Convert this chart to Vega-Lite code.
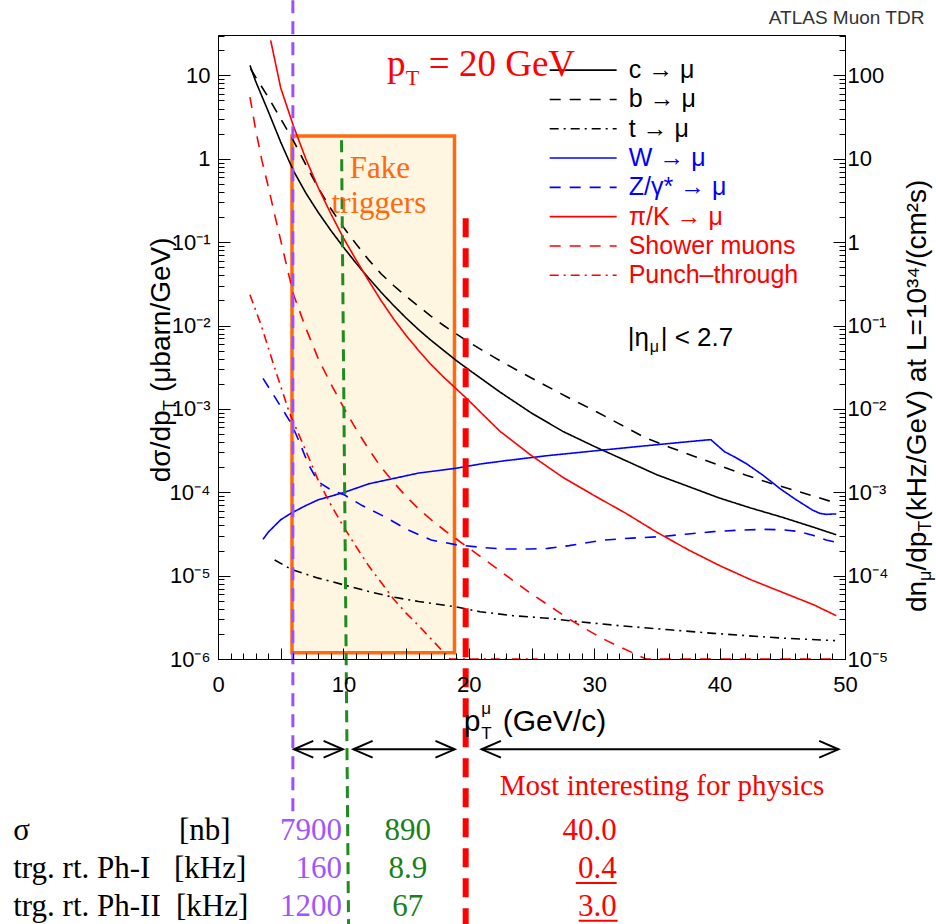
{
 "$schema": "https://vega.github.io/schema/vega-lite/v6.json",
 "width": 627,
 "height": 624,
 "autosize": {"type": "none"},
 "padding": {"left": 218, "top": 35, "right": 91, "bottom": 265},
 "background": "white",
 "config": {"view": {"stroke": "black", "strokeWidth": 1}, "text": {"font": "Liberation Sans"}},
 "datasets": {
  "curves": [
   {"s":"c → μ","x":2.55,"y":13.18},{"s":"c → μ","x":3,"y":8.51},{"s":"c → μ","x":4,"y":3.72},{"s":"c → μ","x":5,"y":1.585},{"s":"c → μ","x":6,"y":0.724},{"s":"c → μ","x":7,"y":0.389},{"s":"c → μ","x":8,"y":0.2265},{"s":"c → μ","x":9,"y":0.138},{"s":"c → μ","x":10,"y":0.0871},{"s":"c → μ","x":11,"y":0.0562},{"s":"c → μ","x":12,"y":0.0372},{"s":"c → μ","x":13,"y":0.0251},{"s":"c → μ","x":14,"y":0.0174},{"s":"c → μ","x":15,"y":0.0123},{"s":"c → μ","x":16,"y":0.00891},{"s":"c → μ","x":17,"y":0.00661},{"s":"c → μ","x":18,"y":0.00501},{"s":"c → μ","x":19,"y":0.0038},{"s":"c → μ","x":20,"y":0.00295},{"s":"c → μ","x":22.5,"y":0.001585},{"s":"c → μ","x":25,"y":0.000891},{"s":"c → μ","x":27.5,"y":0.000537},{"s":"c → μ","x":30,"y":0.000355},{"s":"c → μ","x":32.5,"y":0.00024},{"s":"c → μ","x":35,"y":0.000162},{"s":"c → μ","x":37.5,"y":0.0001175},{"s":"c → μ","x":40,"y":0.0000851},{"s":"c → μ","x":42.5,"y":0.0000646},{"s":"c → μ","x":45,"y":0.0000501},{"s":"c → μ","x":47.5,"y":0.000038},{"s":"c → μ","x":49.3,"y":0.0000309},
   {"s":"b → μ","x":2.6,"y":12.02},{"s":"b → μ","x":3,"y":9.55},{"s":"b → μ","x":4,"y":5.5},{"s":"b → μ","x":5,"y":3.02},{"s":"b → μ","x":6,"y":1.66},{"s":"b → μ","x":7,"y":0.851},{"s":"b → μ","x":8,"y":0.447},{"s":"b → μ","x":9,"y":0.251},{"s":"b → μ","x":10,"y":0.1514},{"s":"b → μ","x":11,"y":0.0955},{"s":"b → μ","x":12,"y":0.0617},{"s":"b → μ","x":13,"y":0.0417},{"s":"b → μ","x":14,"y":0.0302},{"s":"b → μ","x":15,"y":0.0224},{"s":"b → μ","x":16,"y":0.017},{"s":"b → μ","x":17,"y":0.01288},{"s":"b → μ","x":18,"y":0.01},{"s":"b → μ","x":19,"y":0.00794},{"s":"b → μ","x":20,"y":0.00631},{"s":"b → μ","x":22,"y":0.00417},{"s":"b → μ","x":24,"y":0.00282},{"s":"b → μ","x":26,"y":0.00195},{"s":"b → μ","x":28,"y":0.00135},{"s":"b → μ","x":30,"y":0.000955},{"s":"b → μ","x":32,"y":0.000661},{"s":"b → μ","x":34,"y":0.000457},{"s":"b → μ","x":36,"y":0.000347},{"s":"b → μ","x":38,"y":0.000269},{"s":"b → μ","x":40,"y":0.000209},{"s":"b → μ","x":42,"y":0.000162},{"s":"b → μ","x":44,"y":0.000129},{"s":"b → μ","x":46,"y":0.000105},{"s":"b → μ","x":48,"y":0.0000851},{"s":"b → μ","x":49.3,"y":0.0000741},
   {"s":"t → μ","x":4.52,"y":0.0000154},{"s":"t → μ","x":5.84,"y":0.0000119},{"s":"t → μ","x":8,"y":0.00000933},{"s":"t → μ","x":10.1,"y":0.00000771},{"s":"t → μ","x":12,"y":0.00000646},{"s":"t → μ","x":13.8,"y":0.00000558},{"s":"t → μ","x":16,"y":0.0000049},{"s":"t → μ","x":18.9,"y":0.00000424},{"s":"t → μ","x":20.9,"y":0.00000369},{"s":"t → μ","x":23.5,"y":0.00000331},{"s":"t → μ","x":26.3,"y":0.00000308},{"s":"t → μ","x":28.8,"y":0.0000028},{"s":"t → μ","x":32,"y":0.00000251},{"s":"t → μ","x":36,"y":0.00000224},{"s":"t → μ","x":39.5,"y":0.00000203},{"s":"t → μ","x":42,"y":0.00000191},{"s":"t → μ","x":45,"y":0.00000178},{"s":"t → μ","x":49.2,"y":0.00000166},
   {"s":"W → μ","x":3.59,"y":0.0000272},{"s":"W → μ","x":4,"y":0.0000331},{"s":"W → μ","x":5,"y":0.0000468},{"s":"W → μ","x":5.84,"y":0.0000562},{"s":"W → μ","x":7,"y":0.0000692},{"s":"W → μ","x":8,"y":0.0000813},{"s":"W → μ","x":10.1,"y":0.0001},{"s":"W → μ","x":12,"y":0.000126},{"s":"W → μ","x":14.6,"y":0.000153},{"s":"W → μ","x":16,"y":0.00017},{"s":"W → μ","x":18.9,"y":0.000193},{"s":"W → μ","x":20.9,"y":0.000218},{"s":"W → μ","x":23,"y":0.00024},{"s":"W → μ","x":26.3,"y":0.000275},{"s":"W → μ","x":30.7,"y":0.000321},{"s":"W → μ","x":35,"y":0.000372},{"s":"W → μ","x":38.9,"y":0.000423},{"s":"W → μ","x":39.3,"y":0.000427},{"s":"W → μ","x":40.4,"y":0.000306},{"s":"W → μ","x":41,"y":0.000275},{"s":"W → μ","x":42.1,"y":0.000222},{"s":"W → μ","x":43.5,"y":0.0001585},{"s":"W → μ","x":44.8,"y":0.000111},{"s":"W → μ","x":46,"y":0.0000832},{"s":"W → μ","x":47.4,"y":0.0000612},{"s":"W → μ","x":48,"y":0.0000558},{"s":"W → μ","x":48.5,"y":0.0000543},{"s":"W → μ","x":49.3,"y":0.000055},
   {"s":"Z/γ* → μ","x":3.59,"y":0.00232},{"s":"Z/γ* → μ","x":4.5,"y":0.00141},{"s":"Z/γ* → μ","x":5.84,"y":0.00067},{"s":"Z/γ* → μ","x":6.5,"y":0.000398},{"s":"Z/γ* → μ","x":7.17,"y":0.000222},{"s":"Z/γ* → μ","x":7.97,"y":0.000134},{"s":"Z/γ* → μ","x":9,"y":0.000107},{"s":"Z/γ* → μ","x":10.1,"y":0.0000925},{"s":"Z/γ* → μ","x":11.5,"y":0.0000692},{"s":"Z/γ* → μ","x":13.3,"y":0.0000508},{"s":"Z/γ* → μ","x":15,"y":0.0000363},{"s":"Z/γ* → μ","x":17,"y":0.0000267},{"s":"Z/γ* → μ","x":19.1,"y":0.0000233},{"s":"Z/γ* → μ","x":20.9,"y":0.0000219},{"s":"Z/γ* → μ","x":22.6,"y":0.0000209},{"s":"Z/γ* → μ","x":24.9,"y":0.0000209},{"s":"Z/γ* → μ","x":26.3,"y":0.0000212},{"s":"Z/γ* → μ","x":28,"y":0.0000229},{"s":"Z/γ* → μ","x":30.7,"y":0.0000267},{"s":"Z/γ* → μ","x":33,"y":0.0000282},{"s":"Z/γ* → μ","x":35.2,"y":0.0000293},{"s":"Z/γ* → μ","x":37.5,"y":0.0000316},{"s":"Z/γ* → μ","x":39.5,"y":0.0000337},{"s":"Z/γ* → μ","x":41.5,"y":0.0000351},{"s":"Z/γ* → μ","x":43.5,"y":0.0000359},{"s":"Z/γ* → μ","x":45,"y":0.0000355},{"s":"Z/γ* → μ","x":46.4,"y":0.0000337},{"s":"Z/γ* → μ","x":47.5,"y":0.0000302},{"s":"Z/γ* → μ","x":48.5,"y":0.0000267},{"s":"Z/γ* → μ","x":49.3,"y":0.0000251},
   {"s":"π/K → μ","x":4.2,"y":26.3},{"s":"π/K → μ","x":5,"y":7.08},{"s":"π/K → μ","x":6,"y":2.51},{"s":"π/K → μ","x":7,"y":1.0},{"s":"π/K → μ","x":8,"y":0.447},{"s":"π/K → μ","x":9,"y":0.219},{"s":"π/K → μ","x":10,"y":0.1122},{"s":"π/K → μ","x":11,"y":0.0617},{"s":"π/K → μ","x":12,"y":0.0347},{"s":"π/K → μ","x":13,"y":0.01995},{"s":"π/K → μ","x":14,"y":0.012},{"s":"π/K → μ","x":15,"y":0.00759},{"s":"π/K → μ","x":16,"y":0.00501},{"s":"π/K → μ","x":17,"y":0.00339},{"s":"π/K → μ","x":18,"y":0.0024},{"s":"π/K → μ","x":19,"y":0.00174},{"s":"π/K → μ","x":20,"y":0.001259},{"s":"π/K → μ","x":21,"y":0.000891},{"s":"π/K → μ","x":22.5,"y":0.000537},{"s":"π/K → μ","x":25,"y":0.000275},{"s":"π/K → μ","x":27.5,"y":0.000151},{"s":"π/K → μ","x":30,"y":0.0000912},{"s":"π/K → μ","x":32.5,"y":0.0000562},{"s":"π/K → μ","x":35,"y":0.0000331},{"s":"π/K → μ","x":37.5,"y":0.0000204},{"s":"π/K → μ","x":40,"y":0.0000132},{"s":"π/K → μ","x":42.5,"y":0.00000891},{"s":"π/K → μ","x":45,"y":0.00000631},{"s":"π/K → μ","x":47.5,"y":0.00000447},{"s":"π/K → μ","x":49.3,"y":0.00000331},
   {"s":"Shower muons","x":2.55,"y":5.5},{"s":"Shower muons","x":3,"y":2.24},{"s":"Shower muons","x":3.5,"y":0.955},{"s":"Shower muons","x":4,"y":0.468},{"s":"Shower muons","x":4.5,"y":0.219},{"s":"Shower muons","x":5,"y":0.105},{"s":"Shower muons","x":5.5,"y":0.0501},{"s":"Shower muons","x":6,"y":0.024},{"s":"Shower muons","x":7,"y":0.00933},{"s":"Shower muons","x":8,"y":0.00398},{"s":"Shower muons","x":9,"y":0.001995},{"s":"Shower muons","x":10,"y":0.001047},{"s":"Shower muons","x":11,"y":0.000575},{"s":"Shower muons","x":12,"y":0.000331},{"s":"Shower muons","x":13,"y":0.0002},{"s":"Shower muons","x":14,"y":0.000132},{"s":"Shower muons","x":15,"y":0.0000891},{"s":"Shower muons","x":16,"y":0.0000631},{"s":"Shower muons","x":17,"y":0.0000468},{"s":"Shower muons","x":18,"y":0.0000355},{"s":"Shower muons","x":19,"y":0.0000275},{"s":"Shower muons","x":20,"y":0.0000214},{"s":"Shower muons","x":21,"y":0.0000166},{"s":"Shower muons","x":22,"y":0.0000129},{"s":"Shower muons","x":23,"y":0.00001},{"s":"Shower muons","x":24,"y":0.00000776},{"s":"Shower muons","x":25,"y":0.00000603},{"s":"Shower muons","x":26,"y":0.00000479},{"s":"Shower muons","x":27,"y":0.0000038},{"s":"Shower muons","x":28,"y":0.00000302},{"s":"Shower muons","x":29,"y":0.00000245},{"s":"Shower muons","x":30,"y":0.000002},{"s":"Shower muons","x":31,"y":0.00000166},{"s":"Shower muons","x":32,"y":0.00000141},{"s":"Shower muons","x":33,"y":0.0000012},{"s":"Shower muons","x":34,"y":0.00000102},{"s":"Shower muons","x":34.2,"y":0.000001},{"s":"Shower muons","x":49.3,"y":0.000001},
   {"s":"Punch–through","x":2.55,"y":0.0234},{"s":"Punch–through","x":3.45,"y":0.01},{"s":"Punch–through","x":4.5,"y":0.00316},{"s":"Punch–through","x":5.7,"y":0.000891},{"s":"Punch–through","x":7,"y":0.000316},{"s":"Punch–through","x":8,"y":0.000138},{"s":"Punch–through","x":9,"y":0.0000708},{"s":"Punch–through","x":10,"y":0.0000389},{"s":"Punch–through","x":11,"y":0.0000224},{"s":"Punch–through","x":12,"y":0.0000132},{"s":"Punch–through","x":13,"y":0.00000832},{"s":"Punch–through","x":14,"y":0.00000525},{"s":"Punch–through","x":15,"y":0.00000355},{"s":"Punch–through","x":16,"y":0.00000251},{"s":"Punch–through","x":17,"y":0.00000174},{"s":"Punch–through","x":18,"y":0.0000012},{"s":"Punch–through","x":18.5,"y":0.000001},{"s":"Punch–through","x":25.5,"y":0.000001}
  ],
  "legendRows": [
   {"s":"c → μ","y":11.55,"x":26.45,"x2":31.79,"tx":32.75},{"s":"b → μ","y":5.14,"x":26.45,"x2":31.79,"tx":32.75},{"s":"t → μ","y":2.29,"x":26.45,"x2":31.79,"tx":32.75},{"s":"W → μ","y":1.02,"x":26.45,"x2":31.79,"tx":32.75},{"s":"Z/γ* → μ","y":0.454,"x":26.45,"x2":31.79,"tx":32.75},{"s":"π/K → μ","y":0.202,"x":26.45,"x2":31.79,"tx":32.75},{"s":"Shower muons","y":0.0899,"x":26.45,"x2":31.79,"tx":32.75},{"s":"Punch–through","y":0.0401,"x":26.45,"x2":31.79,"tx":32.75}
  ]
 },
 "encoding": {
  "x": {"field": "x", "type": "quantitative", "scale": {"domain": [0, 50], "nice": false, "zero": false}, "axis": null},
  "y": {"field": "y", "type": "quantitative", "scale": {"type": "log", "domain": [1e-6, 30.5], "nice": false}, "axis": null}
 },
 "layer": [
  {
   "data": {"values": [{"x": 5.9, "x2": 18.86, "y": 1.19e-6, "y2": 1.87}]},
   "mark": {"type": "rect", "fill": "#FEF6E0", "stroke": "#FF6A10", "strokeWidth": 3.5},
   "encoding": {
    "x2": {"field": "x2"},
    "y": {"field": "y", "type": "quantitative", "scale": {"type": "log", "domain": [1e-6, 30.5], "nice": false},
     "axis": {"orient": "right", "title": null, "grid": false, "zindex": 1,
      "values": [1e-6,1e-5,1e-4,0.001,0.01,0.1,1,10],
      "labelExpr": "round(log(datum.value)/LN10) == 1 ? '100' : round(log(datum.value)/LN10) == 0 ? '10' : round(log(datum.value)/LN10) == -1 ? '1' : '10' + (round(log(datum.value)/LN10) == -2 ? '⁻¹' : round(log(datum.value)/LN10) == -3 ? '⁻²' : round(log(datum.value)/LN10) == -4 ? '⁻³' : round(log(datum.value)/LN10) == -5 ? '⁻⁴' : '⁻⁵')",
      "tickSize": -12, "labelPadding": 14, "labelFont": "Liberation Sans", "labelFontSize": 22, "labelColor": "black",
      "labelOverlap": false, "labelFlush": false, "labelBound": false,
      "domainColor": "black", "tickColor": "black", "tickWidth": 1}},
    "y2": {"field": "y2"}
   }
  },
  {
   "data": {"name": "curves"},
   "mark": {"type": "line", "strokeWidth": 1.6},
   "encoding": {
    "x": {"field": "x", "type": "quantitative", "scale": {"domain": [0, 50], "nice": false, "zero": false},
     "axis": {"orient": "bottom", "title": null, "grid": false, "zindex": 1,
      "values": [0,5,10,15,20,25,30,35,40,45,50],
      "labelExpr": "datum.value % 10 === 0 ? '' + datum.value : ''",
      "tickSize": -11, "labelPadding": 26, "labelFont": "Liberation Sans", "labelFontSize": 22, "labelColor": "black",
      "labelOverlap": false, "labelFlush": false, "labelBound": false,
      "domainColor": "black", "tickColor": "black", "tickWidth": 1}},
    "y": {"field": "y", "type": "quantitative", "scale": {"type": "log", "domain": [1e-6, 30.5], "nice": false},
     "axis": {"orient": "left", "title": null, "grid": false, "zindex": 1,
      "values": [1e-6,1e-5,1e-4,0.001,0.01,0.1,1,10],
      "labelExpr": "round(log(datum.value)/LN10) == 1 ? '10' : round(log(datum.value)/LN10) == 0 ? '1' : '10' + (round(log(datum.value)/LN10) == -1 ? '⁻¹' : round(log(datum.value)/LN10) == -2 ? '⁻²' : round(log(datum.value)/LN10) == -3 ? '⁻³' : round(log(datum.value)/LN10) == -4 ? '⁻⁴' : round(log(datum.value)/LN10) == -5 ? '⁻⁵' : '⁻⁶')",
      "tickSize": -12, "labelPadding": 20, "labelFont": "Liberation Sans", "labelFontSize": 22, "labelColor": "black",
      "labelOverlap": false, "labelFlush": false, "labelBound": false,
      "domainColor": "black", "tickColor": "black", "tickWidth": 1}},
    "color": {"field": "s", "type": "nominal", "legend": null,
     "scale": {"domain": ["c → μ","b → μ","t → μ","W → μ","Z/γ* → μ","π/K → μ","Shower muons","Punch–through"],
      "range": ["#000000","#000000","#000000","#0000FF","#0000FF","#FF0000","#FF0000","#FF0000"]}},
    "strokeDash": {"field": "s", "type": "nominal", "legend": null,
     "scale": {"domain": ["c → μ","b → μ","t → μ","W → μ","Z/γ* → μ","π/K → μ","Shower muons","Punch–through"],
      "range": [[1,0],[11,9],[9,5,2,5],[1,0],[11,9],[1,0],[11,9],[9,5,2,5]]}}
   }
  },
  {
   "data": {"name": "legendRows"},
   "mark": {"type": "rule", "strokeWidth": 1.6},
   "encoding": {
    "x2": {"field": "x2"},
    "color": {"field": "s", "type": "nominal", "legend": null,
     "scale": {"domain": ["c → μ","b → μ","t → μ","W → μ","Z/γ* → μ","π/K → μ","Shower muons","Punch–through"],
      "range": ["#000000","#000000","#000000","#0000FF","#0000FF","#FF0000","#FF0000","#FF0000"]}},
    "strokeDash": {"field": "s", "type": "nominal", "legend": null,
     "scale": {"domain": ["c → μ","b → μ","t → μ","W → μ","Z/γ* → μ","π/K → μ","Shower muons","Punch–through"],
      "range": [[1,0],[12,11],[9,5,2,5],[1,0],[12,11],[1,0],[12,11],[9,5,2,5]]}}
   }
  },
  {
   "data": {"name": "legendRows"},
   "mark": {"type": "text", "align": "left", "baseline": "middle", "fontSize": 25, "font": "Liberation Sans"},
   "encoding": {
    "x": {"field": "tx", "type": "quantitative", "scale": {"domain": [0, 50], "nice": false, "zero": false}, "axis": null},
    "text": {"field": "s"},
    "color": {"field": "s", "type": "nominal", "legend": null,
     "scale": {"domain": ["c → μ","b → μ","t → μ","W → μ","Z/γ* → μ","π/K → μ","Shower muons","Punch–through"],
      "range": ["#000000","#000000","#000000","#0000FF","#0000FF","#FF0000","#FF0000","#FF0000"]}}
   }
  },
  {
   "data": {"values": [{"x": 5.97, "y": 79.8, "y2": 1.35e-8}]},
   "mark": {"type": "rule", "color": "#9D4EFF", "strokeWidth": 3, "strokeDash": [13, 8]},
   "encoding": {
    "x": {"field": "x", "type": "quantitative", "scale": {"domain": [0, 50], "nice": false, "zero": false},
     "axis": {"orient": "bottom", "title": null, "grid": false, "zindex": 1, "labels": false, "domain": false,
      "values": [1,2,3,4,6,7,8,9,11,12,13,14,16,17,18,19,21,22,23,24,26,27,28,29,31,32,33,34,36,37,38,39,41,42,43,44,46,47,48,49],
      "tickSize": -6, "tickColor": "black", "tickWidth": 1}},
    "y": {"field": "y", "type": "quantitative", "scale": {"type": "log", "domain": [1e-6, 30.5], "nice": false},
     "axis": {"orient": "left", "title": null, "grid": false, "zindex": 1, "labels": false, "domain": false,
      "values": [2e-6,3e-6,4e-6,5e-6,6e-6,7e-6,8e-6,9e-6,2e-5,3e-5,4e-5,5e-5,6e-5,7e-5,8e-5,9e-5,2e-4,3e-4,4e-4,5e-4,6e-4,7e-4,8e-4,9e-4,0.002,0.003,0.004,0.005,0.006,0.007,0.008,0.009,0.02,0.03,0.04,0.05,0.06,0.07,0.08,0.09,0.2,0.3,0.4,0.5,0.6,0.7,0.8,0.9,2,3,4,5,6,7,8,9,20,30],
      "tickSize": -6, "tickColor": "black", "tickWidth": 1}},
    "y2": {"field": "y2"}
   }
  },
  {
   "data": {"values": [{"x": 9.85, "x2": 10.41, "y": 1.671, "y2": 6.64e-10}]},
   "mark": {"type": "rule", "color": "#1E8C1E", "strokeWidth": 3, "strokeDash": [12, 7]},
   "encoding": {
    "x2": {"field": "x2"},
    "y": {"field": "y", "type": "quantitative", "scale": {"type": "log", "domain": [1e-6, 30.5], "nice": false},
     "axis": {"orient": "right", "title": null, "grid": false, "zindex": 1, "labels": false, "domain": false,
      "values": [2e-6,3e-6,4e-6,5e-6,6e-6,7e-6,8e-6,9e-6,2e-5,3e-5,4e-5,5e-5,6e-5,7e-5,8e-5,9e-5,2e-4,3e-4,4e-4,5e-4,6e-4,7e-4,8e-4,9e-4,0.002,0.003,0.004,0.005,0.006,0.007,0.008,0.009,0.02,0.03,0.04,0.05,0.06,0.07,0.08,0.09,0.2,0.3,0.4,0.5,0.6,0.7,0.8,0.9,2,3,4,5,6,7,8,9,20,30],
      "tickSize": -6, "tickColor": "black", "tickWidth": 1}},
    "y2": {"field": "y2"}
   }
  },
  {
   "data": {"values": [{"x": 19.75, "y": 0.194, "y2": 6.64e-10}]},
   "mark": {"type": "rule", "color": "#FF0000", "strokeWidth": 6, "strokeDash": [19, 11]},
   "encoding": {"y2": {"field": "y2"}}
  },
  {
   "data": {"values": [{"x": 6.06, "x2": 9.96, "y": 8.26e-8}, {"x": 10.79, "x2": 18.88, "y": 8.26e-8}, {"x": 21.02, "x2": 49.48, "y": 8.26e-8}]},
   "mark": {"type": "rule", "color": "black", "strokeWidth": 2},
   "encoding": {"x2": {"field": "x2"}}
  },
  {
   "data": {"values": [{"x": 6.06, "y": 8.26e-8}, {"x": 10.79, "y": 8.26e-8}, {"x": 21.02, "y": 8.26e-8}]},
   "mark": {"type": "point", "shape": "M 2.3 -1 L 0 0 L 2.3 1", "size": 282, "filled": false, "stroke": "black", "strokeWidth": 2, "opacity": 1}
  },
  {
   "data": {"values": [{"x": 9.96, "y": 8.26e-8}, {"x": 18.88, "y": 8.26e-8}, {"x": 49.48, "y": 8.26e-8}]},
   "mark": {"type": "point", "shape": "M -2.3 -1 L 0 0 L -2.3 1", "size": 282, "filled": false, "stroke": "black", "strokeWidth": 2, "opacity": 1}
  },
  {
   "data": {"values": [{"t": "ATLAS Muon TDR", "x": 56.33, "y": 41.1}]},
   "mark": {"type": "text", "align": "right", "baseline": "alphabetic", "font": "Liberation Sans", "fontSize": 19, "color": "#333333"},
   "encoding": {"text": {"field": "t"}}
  },
  {
   "data": {"values": [{"t": "p", "x": 13.47, "y": 9.77}, {"t": "= 20 GeV", "x": 16.81, "y": 9.77}]},
   "mark": {"type": "text", "align": "left", "baseline": "alphabetic", "font": "Liberation Serif", "fontSize": 37, "color": "#FF0000"},
   "encoding": {"text": {"field": "t"}}
  },
  {
   "data": {"values": [{"t": "T", "x": 14.98, "y": 7.64}]},
   "mark": {"type": "text", "align": "left", "baseline": "alphabetic", "font": "Liberation Serif", "fontSize": 22, "color": "#FF0000"},
   "encoding": {"text": {"field": "t"}}
  },
  {
   "data": {"values": [{"t": "Fake", "x": 12.91, "y": 0.585}, {"t": "triggers", "x": 12.83, "y": 0.223}]},
   "mark": {"type": "text", "align": "center", "baseline": "alphabetic", "font": "Liberation Serif", "fontSize": 31, "color": "#FF6A10"},
   "encoding": {"text": {"field": "t"}}
  },
  {
   "data": {"values": [{"t": "|η", "x": 32.67, "y": 0.00566}, {"t": "| < 2.7", "x": 35.3, "y": 0.00566}]},
   "mark": {"type": "text", "align": "left", "baseline": "alphabetic", "font": "Liberation Sans", "fontSize": 26, "color": "black"},
   "encoding": {"text": {"field": "t"}}
  },
  {
   "data": {"values": [{"t": "μ", "x": 34.42, "y": 0.0048}]},
   "mark": {"type": "text", "align": "left", "baseline": "alphabetic", "font": "Liberation Sans", "fontSize": 16, "color": "black"},
   "encoding": {"text": {"field": "t"}}
  },
  {
   "data": {"values": [{"t": "p", "x": 19.6, "y": 1.37e-7}, {"t": "(GeV/c)", "x": 22.71, "y": 1.37e-7}]},
   "mark": {"type": "text", "align": "left", "baseline": "alphabetic", "font": "Liberation Sans", "fontSize": 30, "color": "black"},
   "encoding": {"text": {"field": "t"}}
  },
  {
   "data": {"values": [{"t": "μ", "x": 21.0, "y": 2.19e-7}, {"t": "T", "x": 21.0, "y": 1.1e-7}]},
   "mark": {"type": "text", "align": "left", "baseline": "alphabetic", "font": "Liberation Sans", "fontSize": 17, "color": "black"},
   "encoding": {"text": {"field": "t"}}
  },
  {
   "data": {"values": [{"t": "dσ/dp", "x": -3.82, "y": 1.32e-4}, {"t": "(μbarn/GeV)", "x": -3.82, "y": 1.59e-3}]},
   "mark": {"type": "text", "align": "left", "baseline": "alphabetic", "angle": 270, "font": "Liberation Sans", "fontSize": 28, "color": "black"},
   "encoding": {"text": {"field": "t"}}
  },
  {
   "data": {"values": [{"t": "T", "x": -3.35, "y": 9.42e-4}]},
   "mark": {"type": "text", "align": "left", "baseline": "alphabetic", "angle": 270, "font": "Liberation Sans", "fontSize": 18, "color": "black"},
   "encoding": {"text": {"field": "t"}}
  },
  {
   "data": {"values": [{"t": "dn", "x": 56.49, "y": 3.66e-6}, {"t": "/dp", "x": 56.49, "y": 1.15e-5}, {"t": "(kHz/GeV) at L=10³⁴/(cm²s)", "x": 56.49, "y": 4.56e-5}]},
   "mark": {"type": "text", "align": "left", "baseline": "alphabetic", "angle": 270, "font": "Liberation Sans", "fontSize": 28, "color": "black"},
   "encoding": {"text": {"field": "t"}}
  },
  {
   "data": {"values": [{"t": "μ", "x": 56.85, "y": 8.63e-6}, {"t": "T", "x": 56.85, "y": 3.37e-5}]},
   "mark": {"type": "text", "align": "left", "baseline": "alphabetic", "angle": 270, "font": "Liberation Sans", "fontSize": 18, "color": "black"},
   "encoding": {"text": {"field": "t"}}
  },
  {
   "data": {"values": [{"t": "Most interesting for physics", "x": 22.47, "y": 2.34e-8}]},
   "mark": {"type": "text", "align": "left", "baseline": "alphabetic", "font": "Liberation Serif", "fontSize": 29, "color": "#FF0000"},
   "encoding": {"text": {"field": "t"}}
  },
  {
   "data": {"values": [
    {"t": "σ", "x": -16.33, "y": 6.76e-9}, {"t": "[nb]", "x": -3.11, "y": 6.76e-9},
    {"t": "trg. rt. Ph-I", "x": -16.33, "y": 2.37e-9}, {"t": "[kHz]", "x": -3.51, "y": 2.37e-9},
    {"t": "trg. rt. Ph-II", "x": -16.33, "y": 8.28e-10}, {"t": "[kHz]", "x": -3.35, "y": 8.28e-10}
   ]},
   "mark": {"type": "text", "align": "left", "baseline": "alphabetic", "font": "Liberation Serif", "fontSize": 31, "color": "black"},
   "encoding": {"text": {"field": "t"}}
  },
  {
   "data": {"values": [{"t": "7900", "x": 9.88, "y": 6.76e-9}, {"t": "160", "x": 9.88, "y": 2.37e-9}, {"t": "1200", "x": 9.88, "y": 8.28e-10}]},
   "mark": {"type": "text", "align": "right", "baseline": "alphabetic", "font": "Liberation Serif", "fontSize": 31, "color": "#A055FF"},
   "encoding": {"text": {"field": "t"}}
  },
  {
   "data": {"values": [{"t": "890", "x": 15.14, "y": 6.76e-9}, {"t": "8.9", "x": 15.14, "y": 2.37e-9}, {"t": "67", "x": 15.14, "y": 8.28e-10}]},
   "mark": {"type": "text", "align": "center", "baseline": "alphabetic", "font": "Liberation Serif", "fontSize": 31, "color": "#1A7F1A"},
   "encoding": {"text": {"field": "t"}}
  },
  {
   "data": {"values": [{"t": "40.0", "x": 31.79, "y": 6.76e-9}, {"t": "0.4", "x": 31.79, "y": 2.37e-9}, {"t": "3.0", "x": 31.79, "y": 8.28e-10}]},
   "mark": {"type": "text", "align": "right", "baseline": "alphabetic", "font": "Liberation Serif", "fontSize": 31, "color": "#FF0000"},
   "encoding": {"text": {"field": "t"}}
  },
  {
   "data": {"values": [{"x": 28.53, "x2": 31.79, "y": 2.06e-9}, {"x": 28.76, "x2": 31.87, "y": 7.23e-10}]},
   "mark": {"type": "rule", "color": "#FF0000", "strokeWidth": 2},
   "encoding": {"x2": {"field": "x2"}}
  }
 ],
 "resolve": {"axis": {"x": "independent", "y": "independent"}}
}
